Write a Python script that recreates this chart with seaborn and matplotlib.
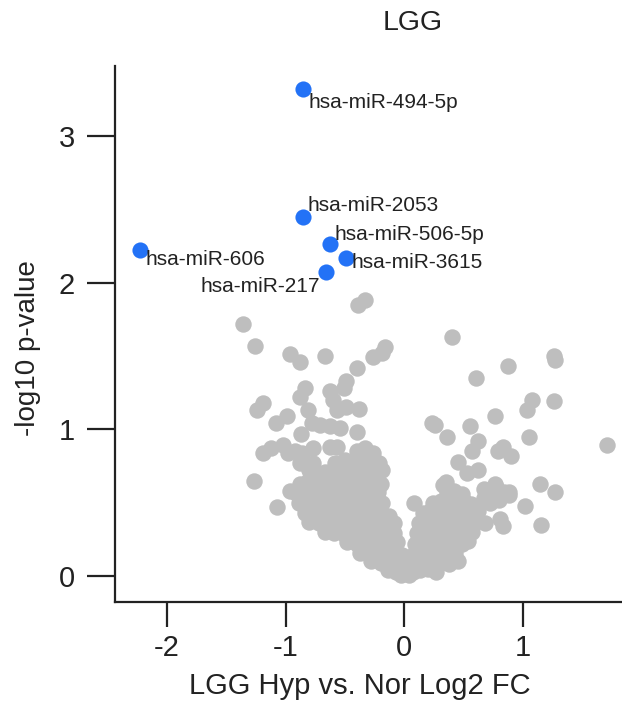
import matplotlib
matplotlib.use("Agg")
import matplotlib.pyplot as plt
import numpy as np
import pandas as pd
import seaborn as sns

# ---- data: log2 fold change vs -log10 p-value -------------------------------
# significant miRNAs
mir_names = ["hsa-miR-494-5p", "hsa-miR-2053", "hsa-miR-506-5p",
             "hsa-miR-3615", "hsa-miR-606", "hsa-miR-217"]
hit_fc = [-0.85, -0.85, -0.63, -0.49, -2.23, -0.66]
hit_logp = [3.32, 2.45, 2.26, 2.17, 2.22, 2.07]

# non-significant miRNAs, down-regulated scattered points
left_outliers = [
    (-1.36, 1.72), (-1.26, 1.57), (-0.96, 1.51), (-0.88, 1.46), (-0.67, 1.50),
    (-0.39, 1.85), (-0.33, 1.88), (-0.16, 1.56), (-0.19, 1.52), (-0.26, 1.49),
    (-0.40, 1.42), (-0.49, 1.33), (-0.51, 1.28), (-0.84, 1.28), (-0.88, 1.22),
    (-0.63, 1.26), (-0.60, 1.20), (-0.57, 1.13), (-0.49, 1.15), (-0.38, 1.14),
    (-1.19, 1.18), (-1.24, 1.13), (-1.08, 1.04), (-0.99, 1.09), (-0.81, 1.13),
    (-0.78, 1.04), (-0.71, 1.03), (-0.63, 1.02), (-0.54, 1.01), (-0.87, 0.97),
    (-0.40, 0.98), (-1.19, 0.84), (-1.12, 0.87), (-1.02, 0.89), (-0.98, 0.84),
    (-0.92, 0.85), (-0.86, 0.84), (-0.77, 0.87), (-0.63, 0.88), (-0.57, 0.88),
    (-0.88, 0.77), (-0.77, 0.77), (-0.80, 0.72), (-0.73, 0.69), (-1.27, 0.65),
    (-1.07, 0.47),
]

# down-regulated dense arm
left_arm = [
    (-0.40, 0.85), (-0.33, 0.87), (-0.26, 0.84),
    (-0.58, 0.77), (-0.50, 0.79), (-0.43, 0.78), (-0.36, 0.80), (-0.28, 0.78), (-0.21, 0.77),
    (-0.67, 0.71), (-0.60, 0.72), (-0.52, 0.70), (-0.44, 0.72), (-0.36, 0.71), (-0.28, 0.70),
    (-0.19, 0.72),
    (-0.88, 0.63), (-0.81, 0.65), (-0.75, 0.64), (-0.69, 0.63), (-0.61, 0.65), (-0.53, 0.64),
    (-0.45, 0.63), (-0.37, 0.65), (-0.29, 0.64), (-0.20, 0.63),
    (-0.96, 0.58), (-0.90, 0.56), (-0.83, 0.58), (-0.76, 0.57), (-0.69, 0.57), (-0.61, 0.56),
    (-0.53, 0.58), (-0.45, 0.57), (-0.37, 0.56), (-0.29, 0.58), (-0.22, 0.57),
    (-0.89, 0.50), (-0.81, 0.51), (-0.73, 0.49), (-0.65, 0.50), (-0.57, 0.51), (-0.49, 0.49),
    (-0.41, 0.50), (-0.33, 0.51), (-0.26, 0.49), (-0.19, 0.50),
    (-0.84, 0.43), (-0.76, 0.44), (-0.67, 0.42), (-0.59, 0.43), (-0.51, 0.44), (-0.43, 0.42),
    (-0.35, 0.43), (-0.27, 0.44), (-0.19, 0.42), (-0.13, 0.41),
    (-0.80, 0.37), (-0.72, 0.36), (-0.64, 0.35), (-0.56, 0.37), (-0.48, 0.36), (-0.40, 0.35),
    (-0.32, 0.37), (-0.24, 0.36), (-0.17, 0.35), (-0.09, 0.36),
    (-0.67, 0.30), (-0.59, 0.29), (-0.50, 0.28), (-0.41, 0.30), (-0.33, 0.29), (-0.25, 0.28),
    (-0.17, 0.30), (-0.09, 0.29),
    (-0.48, 0.23), (-0.40, 0.22), (-0.33, 0.21), (-0.26, 0.23), (-0.19, 0.22), (-0.12, 0.21),
    (-0.06, 0.23),
    (-0.37, 0.16), (-0.29, 0.15), (-0.22, 0.14), (-0.15, 0.16), (-0.08, 0.15), (-0.02, 0.14),
    (-0.28, 0.10), (-0.20, 0.09), (-0.12, 0.08), (-0.05, 0.09), (0.02, 0.08),
    (-0.14, 0.04), (-0.07, 0.03), (0.00, 0.02), (0.07, 0.03),
    (-0.03, 0.01), (0.04, 0.005),
]

# up-regulated dense arm
right_arm = [
    (0.33, 0.62), (0.36, 0.57), (0.42, 0.58), (0.49, 0.56),
    (0.24, 0.50), (0.31, 0.51), (0.38, 0.49), (0.44, 0.50), (0.50, 0.51), (0.56, 0.49),
    (0.16, 0.43), (0.22, 0.44), (0.29, 0.42), (0.36, 0.43), (0.43, 0.44), (0.50, 0.42),
    (0.57, 0.43), (0.62, 0.44),
    (0.12, 0.36), (0.18, 0.37), (0.25, 0.35), (0.32, 0.36), (0.39, 0.37), (0.46, 0.35),
    (0.53, 0.36), (0.60, 0.37),
    (0.11, 0.29), (0.17, 0.30), (0.23, 0.28), (0.30, 0.29), (0.37, 0.30), (0.44, 0.28),
    (0.51, 0.29), (0.57, 0.30),
    (0.09, 0.22), (0.15, 0.23), (0.21, 0.21), (0.28, 0.22), (0.35, 0.23), (0.42, 0.21),
    (0.49, 0.22), (0.54, 0.24),
    (0.08, 0.15), (0.15, 0.14), (0.22, 0.16), (0.29, 0.15), (0.36, 0.14), (0.43, 0.16),
    (0.10, 0.09), (0.17, 0.08), (0.24, 0.10), (0.31, 0.09), (0.38, 0.08), (0.45, 0.10),
    (0.13, 0.04), (0.20, 0.05), (0.27, 0.03),
    (0.67, 0.53), (0.72, 0.50), (0.70, 0.58), (0.77, 0.61), (0.84, 0.57), (0.88, 0.55),
    (0.80, 0.52),
]

# up-regulated scattered points
right_outliers = [
    (0.40, 1.63), (0.60, 1.35), (0.87, 1.43), (1.26, 1.50), (1.27, 1.47), (1.71, 0.89),
    (1.26, 1.19), (1.08, 1.20), (1.03, 1.13), (0.76, 1.09), (0.55, 1.02), (0.26, 1.03),
    (0.23, 1.04), (0.36, 0.95), (0.62, 0.92), (0.57, 0.85), (0.45, 0.78), (0.79, 0.85),
    (0.83, 0.88), (0.90, 0.82), (1.05, 0.95), (0.53, 0.70), (0.62, 0.72), (1.14, 0.63),
    (1.27, 0.57), (1.02, 0.48), (1.15, 0.35), (0.83, 0.34), (0.81, 0.39), (0.76, 0.63),
    (0.88, 0.57), (0.67, 0.59), (0.68, 0.36), (0.35, 0.64), (0.08, 0.50),
]

x_ticks = [-2, -1, 0, 1]
y_ticks = [0, 1, 2, 3]

title = "LGG"
x_title = "LGG Hyp vs. Nor Log2 FC"
y_title = "-log10 p-value"

# ---- build tables -----------------------------------------------------------
background = pd.DataFrame(left_outliers + left_arm + right_arm + right_outliers,
                          columns=["log2fc", "neglog10p"])
hits = pd.DataFrame({"mir": mir_names, "log2fc": hit_fc, "neglog10p": hit_logp})

# ---- styling ----------------------------------------------------------------
sns.set_theme(style="white")
plt.rcParams["font.family"] = ["Liberation Sans", "DejaVu Sans"]
plt.rcParams["axes.unicode_minus"] = False

ink = "#222222"
grey = "#bebebe"
blue = "#2372f6"

fig = plt.figure(figsize=(6.22, 7.06), dpi=100)
ax = fig.add_axes([115 / 622, 104 / 706, 507 / 622, 536 / 706])

sns.scatterplot(data=background, x="log2fc", y="neglog10p", ax=ax,
                color=grey, s=140, linewidth=0, zorder=2)
sns.scatterplot(data=hits, x="log2fc", y="neglog10p", ax=ax,
                color=blue, s=135, linewidth=0, zorder=3)

# labels beside the highlighted points: (dx, dy) in pixels, alignment
label_offsets = [(5, -14, "left"), (4, 11, "left"), (5, 10, "left"),
                 (5, -5, "left"), (6, -9, "left"), (-6, -14, "right")]
for name, fx, fy, (dx, dy, ha) in zip(mir_names, hit_fc, hit_logp, label_offsets):
    ax.annotate(name, (fx, fy), xytext=(dx, dy), textcoords="offset pixels",
                ha=ha, va="center", fontsize=15, color=ink, zorder=4)

ax.set_xlim(-2.437, 1.834)
ax.set_ylim(-0.177, 3.476)
ax.set_xticks(x_ticks)
ax.set_xticklabels([str(v) for v in x_ticks])
ax.set_yticks(y_ticks)
ax.set_yticklabels([str(v) for v in y_ticks])

for side in ("top", "right"):
    ax.spines[side].set_visible(False)
for side in ("left", "bottom"):
    ax.spines[side].set_color(ink)
    ax.spines[side].set_linewidth(1.6)

ax.tick_params(axis="y", direction="out", length=20, width=1.6, pad=9,
               labelsize=21, colors=ink, left=True)
ax.tick_params(axis="x", direction="out", length=18, width=1.6, pad=5,
               labelsize=21, colors=ink, bottom=True)

ax.set_xlabel(x_title, fontsize=21, color=ink, va="center")
ax.xaxis.set_label_coords(0.483, -0.157)
ax.set_ylabel(y_title, fontsize=20, color=ink, va="center")
ax.yaxis.set_label_coords(-0.1716, 0.474)

fig.text(413 / 622, 1 - 23 / 706, title, ha="center", va="center",
         fontsize=20.5, color=ink)

fig.savefig("out.png", dpi=100)
